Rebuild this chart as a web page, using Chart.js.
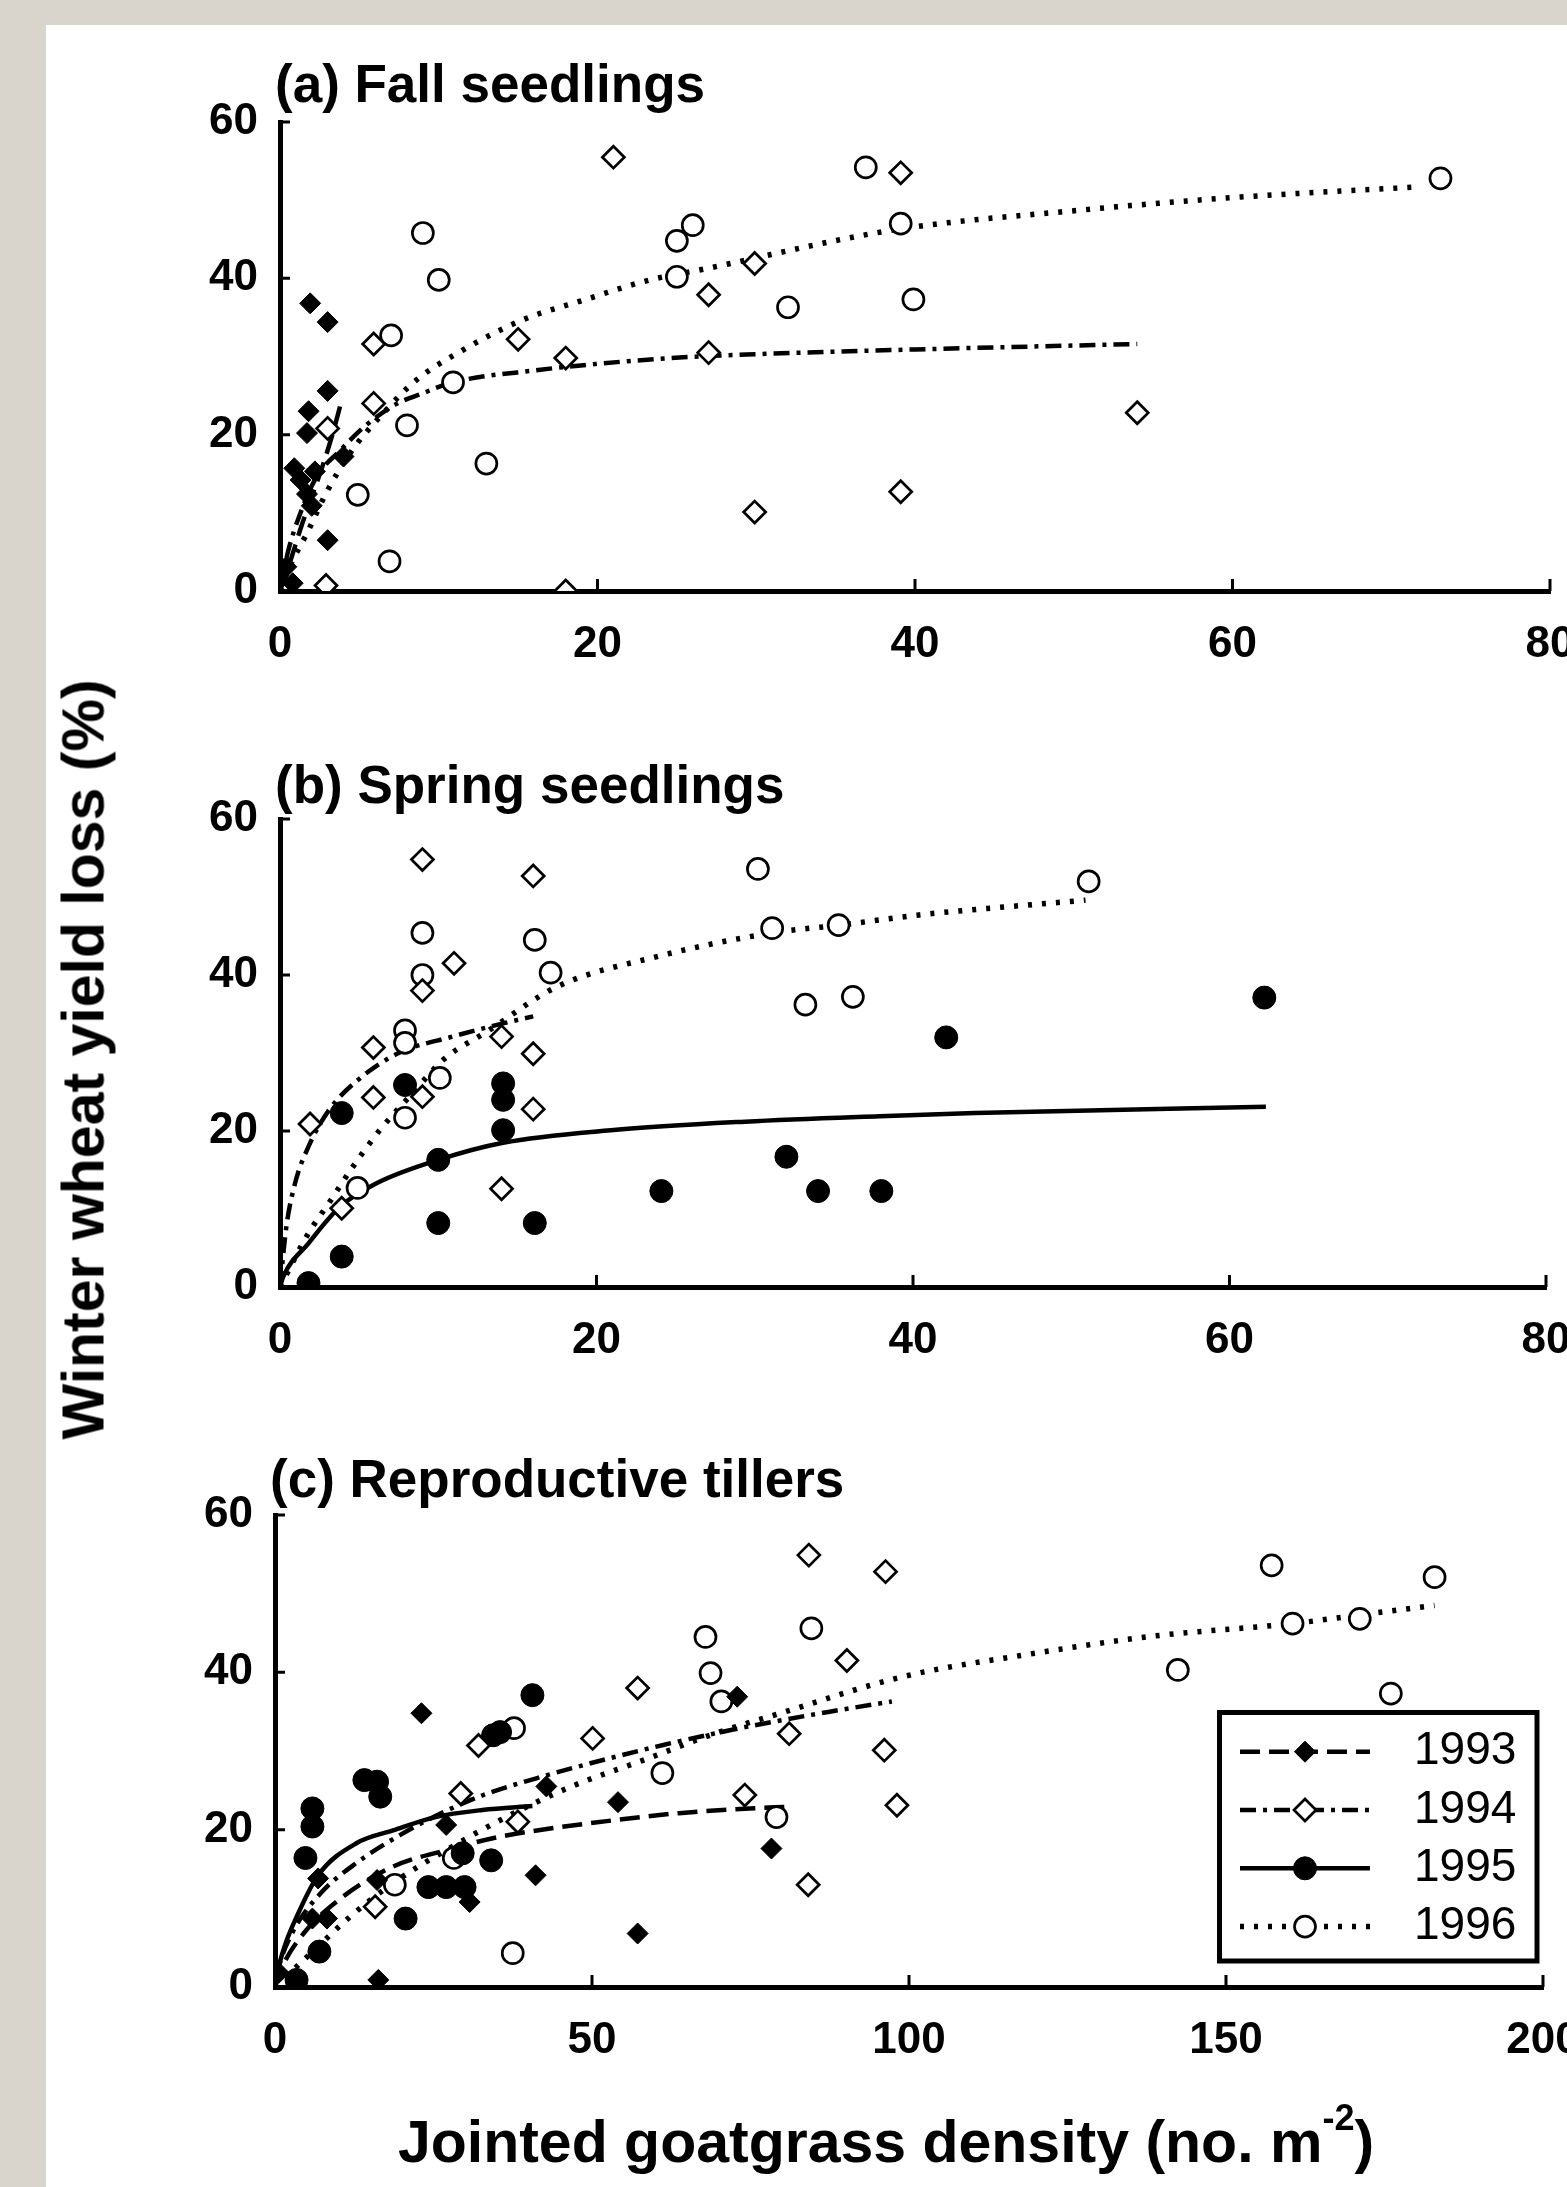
<!DOCTYPE html>
<html>
<head>
<meta charset="utf-8">
<script src="https://cdn.jsdelivr.net/npm/chart.js@4.4.1/dist/chart.umd.min.js"></script>
<style>
  html, body { margin: 0; padding: 0; }
  body { width: 1567px; height: 2187px; overflow: hidden; background: #d9d4cc; position: relative; }
  #paper { position: absolute; left: 46px; top: 25px; width: 1521px; height: 2162px; background: #fff; }
  #wrap { position: absolute; left: 0; top: 0; width: 1567px; height: 2187px; overflow: hidden; }
  canvas { position: absolute; left: 0; }
  .title { position: absolute; font-family: "Liberation Sans", Arial, sans-serif; font-weight: bold; color: #000; white-space: nowrap; text-align: center; }
  #ytitle { left: -416px; top: 1030px; width: 1000px; height: 59px; line-height: 59px; font-size: 59px; transform: rotate(-90deg); }
  #xtitle { left: 386px; top: 2113px; width: 1000px; height: 59px; line-height: 59px; font-size: 59px; }
  #xtitle .sup { font-size: 36px; vertical-align: 32px; line-height: 0; }
</style>
</head>
<body>
<div id="paper"></div>
<div id="wrap">
  <canvas id="fall" width="1640" height="700" style="top:0px"></canvas>
  <canvas id="spring" width="1640" height="700" style="top:700px"></canvas>
  <canvas id="tillers" width="1640" height="700" style="top:1400px"></canvas>
  <div class="title" id="ytitle">Winter wheat yield loss (%)</div>
  <div class="title" id="xtitle">Jointed goatgrass density (no. m<span class="sup">-2</span>)</div>
</div>
<script>
// (a) fall seedlings - [density, yield loss]
const fall1993 = [[1.9,36.8],[3.0,34.4],[3.0,25.6],[1.8,23.0],[1.7,20.2],[4.0,17.2],[0.9,15.7],[1.3,14.2],[1.7,12.4],[2.0,10.9],[3.0,6.5],[0.4,3.1],[0.8,1.0],[2.2,15.3]];
const fall1994 = [[21.0,55.5],[39.1,53.5],[29.9,41.9],[27.0,37.9],[15.0,32.2],[5.9,31.6],[18.0,29.8],[27.0,30.5],[5.9,24.0],[3.0,20.8],[54.0,22.8],[39.1,12.7],[29.9,10.1],[2.9,0.7],[18.0,0]];
const fall1996 = [[73.1,52.8],[36.9,54.2],[39.1,47.0],[9.0,45.8],[26.0,46.8],[25.0,44.8],[25.0,40.2],[10.0,39.8],[32.0,36.3],[39.9,37.3],[7.0,32.7],[10.9,26.7],[8.0,21.2],[13.0,16.3],[4.9,12.3],[6.9,3.8]];
const fallFit1993 = [[0,0],[0.6,3.5],[1.3,8],[1.9,11.5],[2.6,15.5],[3.3,20],[3.9,24.5]];
const fallFit1994 = [[0,0],[0.5,5],[1.2,9.5],[2.3,14.6],[3.8,18],[5.3,21],[7.4,24],[9,25.3],[10.7,26.6],[16.4,28.3],[20.2,29.1],[25.4,29.9],[30,30.3],[40,30.9],[54,31.6]];
const fallFit1996 = [[0,0],[0.6,3.1],[1.7,7.4],[2.9,12.5],[4.4,17.6],[6.3,22.3],[8.6,27],[11.5,30.8],[15.3,34.7],[19.1,37.2],[23.3,39.8],[26.5,41.1],[38.7,46.2],[50.3,48.7],[60.5,50.4],[71.8,51.7]];

// (b) spring seedlings
const spring1994 = [[9.0,54.8],[16.0,52.7],[11.0,41.5],[9.0,38.0],[14.0,32.1],[5.9,30.7],[16.0,29.9],[5.9,24.3],[9.0,24.4],[16.0,22.8],[1.9,20.9],[14.0,12.6],[3.9,10.1]];
const spring1995 = [[62.2,37.1],[42.1,32.0],[32.0,16.7],[34.0,12.3],[38.0,12.3],[3.9,22.3],[7.9,25.9],[14.1,26.1],[14.1,24.0],[14.1,20.1],[10.0,16.3],[24.1,12.3],[10.0,8.2],[16.1,8.2],[3.9,3.9],[1.8,0.5]];
const spring1996 = [[30.2,53.6],[51.1,52.0],[9.0,45.4],[16.1,44.5],[9.0,40.0],[17.1,40.3],[31.1,46.0],[35.3,46.4],[33.2,36.2],[36.2,37.2],[7.9,32.9],[7.9,31.3],[10.1,26.8],[7.9,21.7],[4.9,12.7]];
const springFit1994 = [[0,0],[0.4,7.7],[0.95,13.3],[1.8,18],[3.1,22.7],[4.9,26.5],[7.5,30],[10.9,32.1],[14.1,33.8],[16,34.7]];
const springFit1995 = [[0,0],[0.2,1.3],[1.8,5.6],[3.8,10.3],[6.1,13.3],[10,16.3],[14.1,18.5],[20.9,20.1],[29.4,21.2],[37.9,21.9],[43.9,22.3],[62.3,23.1]];
const springFit1996 = [[0,0],[1.8,6.9],[3.1,10.8],[4.6,15.4],[6.3,20.1],[8.4,24.9],[10.3,29.1],[13.2,32.9],[17.5,38.5],[23.7,42.3],[31.1,45.4],[35.4,46.4],[40.4,47.7],[50.9,49.6]];

// (c) reproductive tillers
const till1993 = [[23.1,34.8],[72.9,36.9],[42.8,25.5],[54.1,23.5],[78.3,17.6],[41.1,14.2],[57.2,6.8],[30.7,10.8],[27.0,20.6],[6.8,13.8],[8.2,8.7],[5.9,8.7],[16.1,13.6],[16.3,0.9],[0.6,1.8]];
const till1994 = [[84.2,54.9],[96.3,52.8],[90.2,41.5],[81.1,32.2],[96.1,30.1],[98.1,23.1],[84.1,13.0],[57.2,38.0],[50.1,31.6],[32.1,30.7],[29.3,24.6],[74.1,24.4],[15.8,10.2],[38.3,21.0]];
const till1995 = [[40.6,37.1],[35.5,32.4],[34.4,32.0],[14.1,26.3],[16.1,26.1],[16.6,24.2],[5.9,22.7],[5.9,20.4],[4.8,16.4],[7.0,4.5],[20.6,8.7],[24.2,12.7],[27.0,12.7],[29.9,12.7],[29.6,17.0],[34.1,16.1],[3.4,0.9]];
const till1996 = [[157.2,53.6],[182.9,52.1],[160.5,46.2],[171.1,46.8],[142.4,40.3],[176.0,37.3],[84.6,45.6],[79.1,21.6],[67.9,44.5],[68.7,39.9],[70.4,36.3],[37.7,32.9],[61.1,27.2],[18.9,13.0],[37.5,4.3],[28.2,16.4]];
const tillFit1993 = [[0,0],[1.1,2.5],[4.5,6.8],[10.1,11.1],[18.6,15.3],[27,17.4],[35.5,19.1],[43.9,20.2],[53.5,21.2],[63.7,22.1],[74.9,22.7],[80.5,22.9]];
const tillFit1994 = [[0,0],[0.6,2.5],[2.8,7],[7.3,12],[12.9,15.8],[19.7,19.3],[26.5,22.2],[33.2,24.5],[42.8,26.9],[52.4,29.0],[61.4,30.8],[72.1,32.7],[80.5,34.0],[87.5,35.0],[97.3,36.3]];
const tillFit1995 = [[0,0],[0.6,2.6],[1.7,5.6],[3.4,8.9],[6.8,14.2],[12.9,18.3],[18.6,19.9],[25.3,21.6],[32.7,22.5],[40.6,23]];
const tillFit1996 = [[0,0],[1.7,1.3],[6.2,4.7],[11.8,8.9],[18.6,13.2],[27,17.4],[35.5,21.2],[46.8,25.5],[58,28.8],[69.3,32.2],[79.7,34.8],[99.3,39.5],[118.9,42.3],[138.5,44.6],[160.5,46.2],[171.1,47.3],[182.9,48.5]];

const years = ['1993', '1994', '1995', '1996'];
const yTicks = [0, 20, 40, 60];

const FONT = '"Liberation Sans", Arial, sans-serif';
Chart.defaults.font.family = FONT;
Chart.defaults.color = '#000';

// marker + line style per year
const styles = {
  '1993': { point: 'rectRot', radius: 10.5, fill: '#000', bw: 1, dash: [20, 9], lw: 4.5 },
  '1994': { point: 'rectRot', radius: 11, fill: '#fff', bw: 2.7, dash: [16, 7, 4, 7], lw: 4.5 },
  '1995': { point: 'circle', radius: 11.5, fill: '#000', bw: 1, dash: [], lw: 4.5 },
  '1996': { point: 'circle', radius: 10.5, fill: '#fff', bw: 2.7, dash: [4, 10], lw: 5.5 }
};

const toXY = arr => arr.map(([x, y]) => ({ x, y }));

function pointSet(year, data) {
  const s = styles[year];
  return {
    type: 'scatter', label: year, data: toXY(data),
    pointStyle: s.point, pointRadius: s.radius,
    pointBackgroundColor: s.fill, pointBorderColor: '#000', pointBorderWidth: s.bw,
    showLine: false, order: 0, clip: 0
  };
}

function fitSet(year, data) {
  const s = styles[year];
  return {
    type: 'line', label: year, data: toXY(data),
    borderColor: '#000', borderWidth: s.lw, borderDash: s.dash,
    pointRadius: 0, fill: false, cubicInterpolationMode: 'monotone',
    order: 1, clip: 0
  };
}

// small ticks pointing into the plot
const innerTicks = {
  id: 'innerTicks',
  beforeDatasetsDraw(chart) {
    const { ctx, scales: { x, y }, chartArea: a } = chart;
    ctx.save();
    ctx.strokeStyle = '#000';
    ctx.lineWidth = 3;
    ctx.beginPath();
    x.ticks.forEach(t => {
      if (t.value === 0) return;
      const px = x.getPixelForValue(t.value);
      ctx.moveTo(px, a.bottom);
      ctx.lineTo(px, a.bottom - 12);
    });
    y.ticks.forEach(t => {
      if (t.value === 0) return;
      const py = y.getPixelForValue(t.value);
      ctx.moveTo(a.left, py);
      ctx.lineTo(a.left + 10, py);
    });
    ctx.stroke();
    ctx.restore();
  }
};

const panelTitle = {
  id: 'panelTitle',
  afterDraw(chart, args, opts) {
    if (!opts.text) return;
    const { ctx, chartArea: a } = chart;
    ctx.save();
    ctx.font = 'bold 53px ' + FONT;
    ctx.fillStyle = '#000';
    ctx.textAlign = 'left';
    ctx.textBaseline = 'alphabetic';
    ctx.fillText(opts.text, a.left - 5, a.top - opts.gap);
    ctx.restore();
  }
};

// boxed legend, line sample with marker in the middle
const legendBox = {
  id: 'legendBox',
  afterDraw(chart, args, opts) {
    if (!opts.show) return;
    const { ctx, chartArea: a } = chart;
    const left = a.right - 323.5, top = a.bottom - 274.5;
    ctx.save();
    ctx.strokeStyle = '#000';
    ctx.lineWidth = 5;
    ctx.strokeRect(left, top, 317.5, 248.5);
    years.forEach((yr, i) => {
      const s = styles[yr];
      const cy = top + 39.2 + i * 58.3;
      ctx.lineWidth = s.lw;
      ctx.setLineDash(s.dash);
      ctx.beginPath();
      ctx.moveTo(left + 20.5, cy);
      ctx.lineTo(left + 150.5, cy);
      ctx.stroke();
      ctx.setLineDash([]);
      const mx = left + 85.5, r = s.radius;
      ctx.beginPath();
      if (s.point === 'circle') {
        ctx.arc(mx, cy, r, 0, Math.PI * 2);
      } else {
        ctx.moveTo(mx - r, cy); ctx.lineTo(mx, cy - r);
        ctx.lineTo(mx + r, cy); ctx.lineTo(mx, cy + r);
        ctx.closePath();
      }
      ctx.fillStyle = s.fill;
      ctx.fill();
      ctx.lineWidth = s.bw;
      ctx.stroke();
      ctx.fillStyle = '#000';
      ctx.font = '46px ' + FONT;
      ctx.textAlign = 'left';
      ctx.textBaseline = 'middle';
      ctx.fillText(yr, left + 194.5, cy);
    });
    ctx.restore();
  }
};

const tickFont = { family: FONT, size: 44, weight: 'bold' };

function makePanel(id, opt) {
  return new Chart(document.getElementById(id), {
    type: 'scatter',
    data: { datasets: opt.datasets },
    options: {
      responsive: false,
      animation: false,
      events: [],
      layout: { padding: opt.padding },
      scales: {
        x: {
          type: 'linear', min: 0, max: opt.xMax,
          ticks: { stepSize: opt.xStep, padding: 27, font: tickFont, color: '#000', autoSkip: false, maxRotation: 0 },
          grid: { display: false, drawTicks: false },
          border: { display: true, color: '#000', width: 5 },
          afterFit: s => { s.height = 90; }
        },
        y: {
          type: 'linear', min: 0, max: 60,
          afterBuildTicks: s => { s.ticks = yTicks.map(v => ({ value: v })); },
          ticks: { padding: 22, font: tickFont, color: '#000' },
          grid: { display: false, drawTicks: false },
          border: { display: true, color: '#000', width: 5 },
          afterFit: s => { s.width = opt.yWidth; }
        }
      },
      plugins: {
        legend: { display: false },
        tooltip: { enabled: false },
        panelTitle: { text: opt.title, gap: opt.gap },
        legendBox: { show: !!opt.legend }
      }
    },
    plugins: [innerTicks, panelTitle, legendBox]
  });
}

makePanel('fall', {
  title: '(a) Fall seedlings', gap: 20,
  xMax: 80, xStep: 20, yWidth: 280,
  padding: { left: 0, top: 122, right: 90, bottom: 19 },
  datasets: [
    pointSet('1993', fall1993), pointSet('1994', fall1994), pointSet('1996', fall1996),
    fitSet('1993', fallFit1993), fitSet('1994', fallFit1994), fitSet('1996', fallFit1996)
  ]
});

makePanel('spring', {
  title: '(b) Spring seedlings', gap: 16,
  xMax: 80, xStep: 20, yWidth: 280,
  padding: { left: 0, top: 119, right: 94, bottom: 23 },
  datasets: [
    pointSet('1994', spring1994), pointSet('1995', spring1995), pointSet('1996', spring1996),
    fitSet('1994', springFit1994), fitSet('1995', springFit1995), fitSet('1996', springFit1996)
  ]
});

makePanel('tillers', {
  title: '(c) Reproductive tillers', gap: 18, legend: true,
  xMax: 200, xStep: 50, yWidth: 275,
  padding: { left: 0, top: 115, right: 97, bottom: 23 },
  datasets: [
    pointSet('1993', till1993), pointSet('1994', till1994), pointSet('1995', till1995), pointSet('1996', till1996),
    fitSet('1993', tillFit1993), fitSet('1994', tillFit1994), fitSet('1995', tillFit1995), fitSet('1996', tillFit1996)
  ]
});
</script>
</body>
</html>
